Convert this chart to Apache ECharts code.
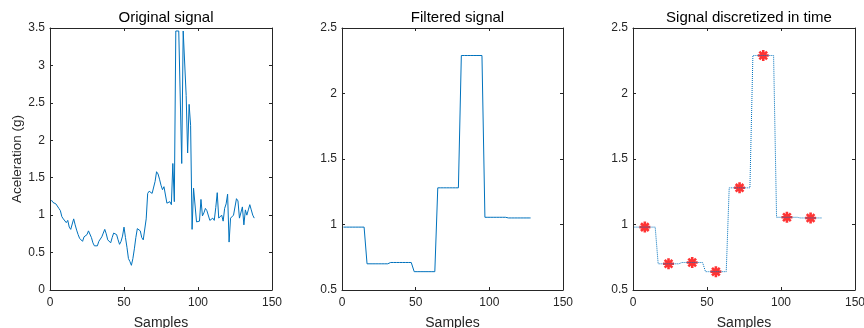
<!DOCTYPE html>
<html>
<head>
<meta charset="utf-8">
<script src="https://cdn.jsdelivr.net/npm/echarts@6/dist/echarts.min.js"></script>
<style>
  html, body { margin: 0; padding: 0; background: #fff; }
  #chart { width: 864px; height: 328px; }
</style>
</head>
<body>
<div id="chart"></div>
<script>
// original signal, samples 1..138
var raw_signal = [
  1.20, 1.17, 1.15, 1.15, 1.14, 1.09, 1.06, 0.98, 0.95, 0.94,
  0.90, 0.93, 0.84, 0.81, 0.80, 0.95, 0.87, 0.80, 0.74, 0.69,
  0.70, 0.65, 0.71, 0.72, 0.74, 0.79, 0.78, 0.70, 0.63, 0.59,
  0.57, 0.59, 0.65, 0.67, 0.71, 0.76, 0.81, 0.75, 0.67, 0.69,
  0.63, 0.70, 0.76, 0.74, 0.74, 0.67, 0.61, 0.65, 0.72, 0.84,
  0.70, 0.57, 0.42, 0.38, 0.33, 0.42, 0.55, 0.70, 0.82, 0.81,
  0.79, 0.70, 0.67, 0.68, 0.95, 1.29, 1.32, 1.33, 1.29, 1.30,
  1.45, 1.58, 1.55, 1.48, 1.40, 1.34, 1.38, 1.37, 1.16, 1.17,
  1.18, 1.14, 1.69, 1.18, 3.46, 3.46, 3.46, 3.46, 1.69, 3.46,
  3.46, 2.60, 1.83, 2.48, 2.20, 0.81, 1.36, 1.35, 0.91, 0.93,
  0.92, 1.21, 0.99, 1.03, 1.09, 1.06, 1.07, 0.93, 0.95, 0.96,
  0.93, 1.10, 1.30, 0.96, 0.98, 1.00, 0.92, 1.09, 1.15, 1.28,
  0.64, 0.96, 0.98, 1.00, 1.02, 1.22, 1.19, 0.96, 0.98, 1.11,
  0.87, 1.07, 1.00, 1.07, 1.14, 1.07, 1.00, 0.96
];

// filtered signal: one value per 16-sample window
var win_size = 16;
var win_values = [0.98, 0.70, 0.71, 0.64, 1.28, 2.29, 1.055, 1.05];
// sample picked at the centre of each window
var win_centers = [8, 24, 40, 56, 72, 88, 104, 120];

var x_ticks = [0, 150, 50];
var y_ticks_raw = [0, 3.5, 0.5];
var y_ticks_filt = [0.5, 2.5, 0.5];

var blue = '#0072BD';
var ink = '#262626';
var font = 'Liberation Sans, Arial, Helvetica, sans-serif';

var raw_points = raw_signal.map(function (v, i) { return [i + 1, v]; });
var filt_points = [];
for (var i = 1; i <= win_size * win_values.length; i++) {
  filt_points.push([i, win_values[Math.floor((i - 1) / win_size)]]);
}
var sample_points = win_centers.map(function (c, k) { return [c, win_values[k]]; });

var grids = [
  { left: 50, top: 28, width: 222, height: 262, outerBoundsMode: 'none' },
  { left: 342, top: 28, width: 221, height: 262, outerBoundsMode: 'none' },
  { left: 633, top: 28, width: 222, height: 262, outerBoundsMode: 'none' }
];
var titles = ['Original signal', 'Filtered signal', 'Signal discretized in time'];

function edge(extra) {
  var a = {
    type: 'value',
    axisLine: { onZero: false, lineStyle: { color: ink, width: 1 } },
    axisTick: { inside: true, length: 3, lineStyle: { color: ink } },
    splitLine: { show: false }
  };
  for (var key in extra) a[key] = extra[key];
  return a;
}

var x_axes = [], y_axes = [];
grids.forEach(function (g, k) {
  var yt = k === 0 ? y_ticks_raw : y_ticks_filt;
  // bottom / left axes with labels
  x_axes.push(edge({
    gridIndex: k, min: x_ticks[0], max: x_ticks[1], interval: x_ticks[2],
    position: 'bottom',
    name: 'Samples', nameLocation: 'middle', nameGap: 26,
    nameTextStyle: { color: ink, fontFamily: font, fontSize: 14 },
    axisLabel: { color: ink, fontFamily: font, fontSize: 12, margin: 7 }
  }));
  y_axes.push(edge({
    gridIndex: k, min: yt[0], max: yt[1], interval: yt[2],
    position: 'left',
    name: k === 0 ? 'Aceleration (g)' : '', nameLocation: 'middle', nameGap: 25,
    nameTextStyle: { color: ink, fontFamily: font, fontSize: 13.5 },
    axisLabel: { color: ink, fontFamily: font, fontSize: 12, margin: 5 }
  }));
  // top / right box edges
  x_axes.push(edge({
    gridIndex: k, min: x_ticks[0], max: x_ticks[1], interval: x_ticks[2],
    position: 'top', axisLabel: { show: false }
  }));
  y_axes.push(edge({
    gridIndex: k, min: yt[0], max: yt[1], interval: yt[2],
    position: 'right', axisLabel: { show: false }
  }));
});

var option = {
  animation: false,
  backgroundColor: '#fff',
  title: titles.map(function (t, k) {
    return {
      text: t, left: grids[k].left + grids[k].width / 2, top: 5, textAlign: 'center',
      textStyle: { color: '#000', fontFamily: font, fontSize: 15, fontWeight: 'normal' }
    };
  }),
  grid: grids,
  xAxis: x_axes,
  yAxis: y_axes,
  series: [
    {
      type: 'line', xAxisIndex: 0, yAxisIndex: 0, data: raw_points,
      showSymbol: false, lineStyle: { color: blue, width: 1 }
    },
    {
      type: 'line', xAxisIndex: 2, yAxisIndex: 2, data: filt_points,
      showSymbol: false, lineStyle: { color: blue, width: 1 }
    },
    {
      type: 'line', xAxisIndex: 4, yAxisIndex: 4, data: filt_points,
      showSymbol: false, lineStyle: { color: blue, width: 1, type: 'dotted' }
    },
    {
      type: 'scatter', xAxisIndex: 4, yAxisIndex: 4, data: sample_points,
      symbol: 'path://M0,-5L0,5M-5,0L5,0M-3.5,-3.5L3.5,3.5M-3.5,3.5L3.5,-3.5',
      symbolSize: 11,
      itemStyle: { color: 'none', borderColor: '#ff0000', borderWidth: 2.6 }
    }
  ]
};

var myChart = echarts.init(document.getElementById('chart'));
myChart.setOption(option);
</script>
</body>
</html>
